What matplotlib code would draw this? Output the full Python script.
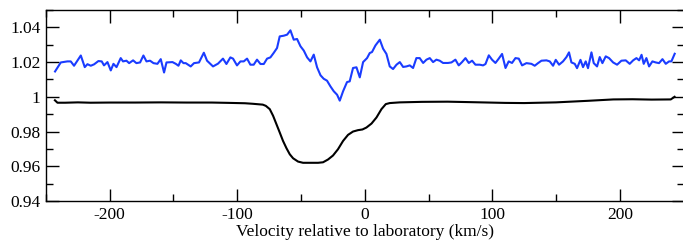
import matplotlib
matplotlib.use("Agg")
import matplotlib.pyplot as plt
from matplotlib.ticker import MultipleLocator, FormatStrFormatter

# blue spectrum (velocity km/s, flux)
blue_vel = [-242.9, -238.4, -233.2, -230.6, -228.0, -222.7, -219.6, -217.5, -214.9, -212.3,
            -208.9, -206.3, -204.5, -201.8, -199.2, -197.1, -194.7, -191.4, -189.6, -186.9,
            -184.8, -181.7, -179.1, -176.2, -173.6, -171.2, -168.4, -165.7, -162.6, -160.0,
            -157.4, -155.5, -150.8, -148.2, -146.1, -144.3, -142.2, -140.4, -136.5, -133.9,
            -130.0, -126.2, -123.7, -119.0, -115.1, -111.2, -108.5, -105.4, -103.3, -100.2,
            -97.5, -94.9, -92.3, -89.7, -87.1, -84.5, -81.8, -79.2, -76.6, -74.0,
            -71.4, -68.8, -66.7, -63.5, -60.9, -58.3, -55.7, -53.1, -50.4, -47.8,
            -45.2, -42.6, -40.0, -37.4, -34.7, -32.2, -29.6, -26.9, -24.3, -21.7,
            -19.6, -17.0, -13.9, -11.8, -9.2, -6.5, -3.9, -1.3, 1.8, 3.9,
            5.7, 8.4, 11.8, 14.4, 17.0, 19.6, 22.2, 24.9, 27.5, 30.1,
            32.7, 35.3, 37.9, 40.5, 43.1, 45.8, 48.4, 51.0, 53.6, 56.2,
            58.8, 61.4, 65.3, 68.0, 71.1, 73.7, 76.3, 79.0, 81.6, 84.2,
            86.8, 90.2, 92.8, 94.7, 97.3, 99.8, 102.5, 105.1, 107.7, 110.4,
            112.9, 115.5, 118.2, 120.8, 123.4, 126.8, 130.7, 133.3, 135.9, 138.6,
            142.5, 145.1, 147.7, 149.8, 152.4, 155.5, 158.2, 160.2, 162.1, 164.7,
            166.5, 169.2, 171.2, 173.3, 175.1, 177.8, 179.6, 182.2, 184.3, 186.4,
            189.0, 191.6, 194.8, 197.9, 201.3, 204.7, 207.8, 210.5, 213.1, 215.2,
            217.1, 218.8, 220.9, 223.0, 225.6, 228.2, 230.8, 233.5, 236.1, 238.7,
            240.5, 243.1]
blue_flux = [1.0146, 1.0198, 1.0204, 1.0204, 1.0179, 1.0238, 1.0171, 1.0188, 1.0179, 1.0187,
             1.0206, 1.0204, 1.0181, 1.0200, 1.0152, 1.0190, 1.0171, 1.0223, 1.0204, 1.0208,
             1.0194, 1.0210, 1.0194, 1.0198, 1.0238, 1.0204, 1.0208, 1.0194, 1.0190, 1.0217,
             1.0140, 1.0198, 1.0200, 1.0190, 1.0179, 1.0210, 1.0194, 1.0194, 1.0175, 1.0194,
             1.0198, 1.0254, 1.0208, 1.0175, 1.0191, 1.0220, 1.0189, 1.0227, 1.0220, 1.0181,
             1.0204, 1.0204, 1.0220, 1.0185, 1.0185, 1.0214, 1.0189, 1.0189, 1.0220, 1.0227,
             1.0253, 1.0281, 1.0348, 1.0352, 1.0358, 1.0383, 1.0329, 1.0333, 1.0291, 1.0266,
             1.0227, 1.0204, 1.0243, 1.0170, 1.0124, 1.0104, 1.0093, 1.0060, 1.0032, 1.0012,
             0.9978, 1.0032, 1.0085, 1.0089, 1.0166, 1.0170, 1.0112, 1.0200, 1.0223, 1.0252,
             1.0258, 1.0296, 1.0329, 1.0277, 1.0247, 1.0175, 1.0160, 1.0185, 1.0200, 1.0172,
             1.0175, 1.0181, 1.0166, 1.0223, 1.0223, 1.0195, 1.0214, 1.0223, 1.0200, 1.0214,
             1.0208, 1.0195, 1.0195, 1.0198, 1.0214, 1.0181, 1.0200, 1.0223, 1.0195, 1.0208,
             1.0185, 1.0185, 1.0181, 1.0189, 1.0239, 1.0214, 1.0195, 1.0220, 1.0247, 1.0166,
             1.0204, 1.0195, 1.0223, 1.0220, 1.0181, 1.0194, 1.0190, 1.0179, 1.0194, 1.0208,
             1.0210, 1.0204, 1.0179, 1.0213, 1.0185, 1.0204, 1.0229, 1.0256, 1.0198, 1.0190,
             1.0165, 1.0213, 1.0171, 1.0204, 1.0165, 1.0256, 1.0194, 1.0175, 1.0229, 1.0194,
             1.0233, 1.0223, 1.0198, 1.0185, 1.0208, 1.0210, 1.0190, 1.0210, 1.0223, 1.0210,
             1.0242, 1.0190, 1.0223, 1.0175, 1.0204, 1.0198, 1.0194, 1.0217, 1.0190, 1.0204,
             1.0204, 1.0248]

# black spectrum
black_vel = [-243, -241, -235, -225, -215, -200, -180, -160, -140, -120,
             -106, -94, -88, -80, -77.6, -74.5, -71.9, -69.3, -66.7, -64.1,
             -61.4, -58.8, -56.2, -52.3, -48.4, -43.1, -36.6, -32.7, -28.8, -24.9,
             -21.0, -17.0, -13.1, -9.2, -5.3, -1.8, 1.3, 5.3, 9.2, 13.1,
             16.5, 19.6, 27.5, 45, 65, 85, 110, 125, 150, 175,
             195, 210, 225, 240, 243]
black_flux = [0.9980, 0.9966, 0.9966, 0.9968, 0.9966, 0.9967, 0.9967, 0.9968, 0.9967, 0.9967,
              0.9965, 0.9963, 0.9960, 0.9955, 0.9948, 0.9929, 0.9891, 0.9843, 0.9795, 0.9746,
              0.9704, 0.9669, 0.9646, 0.9627, 0.9620, 0.9620, 0.9620, 0.9623, 0.9639, 0.9662,
              0.9698, 0.9746, 0.9781, 0.9800, 0.9808, 0.9812, 0.9823, 0.9846, 0.9881, 0.9929,
              0.9958, 0.9964, 0.9968, 0.9971, 0.9972, 0.9969, 0.9965, 0.9964, 0.9968, 0.9977,
              0.9985, 0.9986, 0.9984, 0.9985, 1.0000]

plt.rcParams['font.family'] = ['Liberation Serif', 'DejaVu Serif']
plt.rcParams['axes.unicode_minus'] = False

fig = plt.figure(figsize=(6.83, 2.44), dpi=100)
# right spine sits on the image edge, as in the reference
ax = fig.add_axes([46 / 683, 1 - 201 / 244, 637.5 / 683, 191 / 244])

ax.plot(blue_vel, blue_flux, color='#1a3cff', lw=1.5)
ax.plot(black_vel, black_flux, color='black', lw=1.5)

ax.set_xlim(-250, 250)
ax.set_ylim(0.94, 1.05)
ax.xaxis.set_major_locator(MultipleLocator(100))
ax.xaxis.set_minor_locator(MultipleLocator(50))
ax.yaxis.set_major_locator(MultipleLocator(0.02))
ax.yaxis.set_minor_locator(MultipleLocator(0.01))
ax.yaxis.set_major_formatter(FormatStrFormatter('%g'))

ax.tick_params(which='both', direction='in', top=True, right=True, width=1.0, labelsize=12.5)
ax.tick_params(which='major', length=9, pad=4)
ax.tick_params(which='minor', length=5)
for s in ax.spines.values():
    s.set_linewidth(1.0)

ax.set_xlabel('Velocity relative to laboratory (km/s)', fontsize=12.5, labelpad=1)

fig.savefig('out.png', dpi=100)
